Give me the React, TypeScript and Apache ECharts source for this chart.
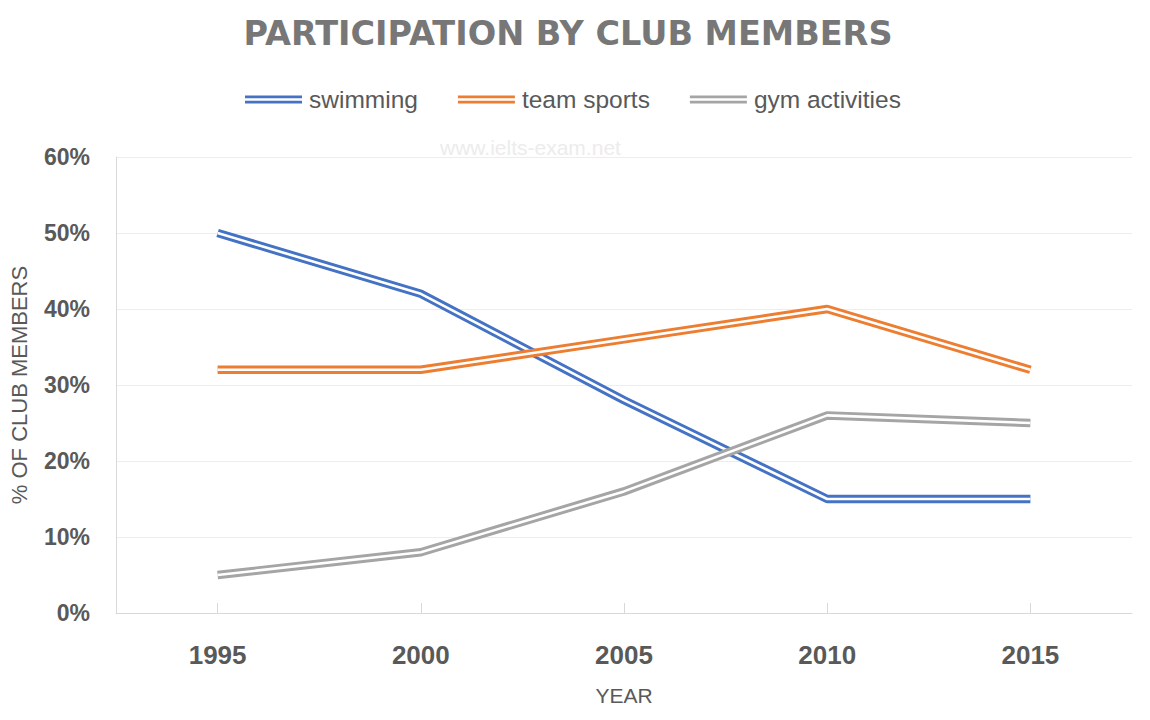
import React, { useEffect, useRef } from "react";
import * as echarts from "echarts";

const years = ["1995", "2000", "2005", "2010", "2015"];
const swimming = [50, 42, 28, 15, 15];
const teamSports = [32, 32, 36, 40, 32];
const gymActivities = [5, 8, 16, 26, 25];
const yTicks = { min: 0, max: 60, interval: 10 };

const seriesDefs = [
  { name: "swimming", data: swimming, color: "#4472C4" },
  { name: "team sports", data: teamSports, color: "#ED7D31" },
  { name: "gym activities", data: gymActivities, color: "#A5A5A5" },
];

const doubleIcon = "path://M0,0L60,0L60,3L0,3Z M0,5.5L60,5.5L60,8.5L0,8.5Z";

export default function App() {
  const ref = useRef<HTMLDivElement>(null);
  useEffect(() => {
    if (!ref.current) return;
    const chart = echarts.init(ref.current, null, { renderer: "svg" });
    const series: any[] = [];
    seriesDefs.forEach((s) => {
      series.push({
        name: s.name,
        type: "line",
        data: s.data,
        symbol: "none",
        color: s.color,
        itemStyle: { color: s.color },
        lineStyle: { color: s.color, width: 8.5 },
      });
      series.push({
        name: s.name + " inner",
        type: "line",
        data: s.data,
        symbol: "none",
        silent: true,
        color: "#ffffff",
        lineStyle: { color: "#ffffff", width: 2.6 },
      });
    });
    chart.setOption({
      animation: false,
      backgroundColor: "#ffffff",
      title: {
        text: "PARTICIPATION BY CLUB MEMBERS",
        left: 563,
        top: 11,
        textAlign: "center",
        textStyle: {
          fontFamily: "DejaVu Sans",
          fontWeight: "bold",
          fontSize: 33.5,
          color: "#777777",
        },
      },
      legend: {
        data: seriesDefs.map((s) => s.name),
        left: 240,
        top: 82,
        icon: doubleIcon,
        itemWidth: 57,
        itemHeight: 9,
        itemGap: 40,
        itemStyle: { borderWidth: 0 },
        textStyle: {
          fontFamily: "Liberation Sans",
          fontSize: 24.5,
          color: "#595959",
          padding: [0, 0, 0, 2],
        },
      },
      graphic: [
        {
          type: "text",
          left: 440,
          top: 137,
          silent: true,
          style: {
            text: "www.ielts-exam.net",
            fontFamily: "Liberation Sans",
            fontSize: 21,
            fill: "#ececec",
          },
        },
      ],
      grid: { left: 114, right: 18, top: 157, bottom: 107, containLabel: false },
      xAxis: {
        type: "category",
        data: years,
        boundaryGap: true,
        name: "YEAR",
        nameLocation: "middle",
        nameGap: 72,
        nameTextStyle: {
          fontFamily: "Liberation Sans",
          fontSize: 21,
          color: "#595959",
        },
        axisLine: { lineStyle: { color: "#d9d9d9", width: 1 } },
        axisTick: {
          show: true,
          inside: true,
          alignWithLabel: true,
          length: 10,
          lineStyle: { color: "#d9d9d9" },
        },
        axisLabel: {
          margin: 29,
          fontFamily: "Liberation Sans",
          fontWeight: "bold",
          fontSize: 26,
          color: "#595959",
        },
      },
      yAxis: {
        type: "value",
        min: yTicks.min,
        max: yTicks.max,
        interval: yTicks.interval,
        name: "% OF CLUB MEMBERS",
        nameLocation: "middle",
        nameGap: 86,
        nameRotate: 90,
        nameTextStyle: {
          fontFamily: "Liberation Sans",
          fontSize: 22,
          color: "#595959",
        },
        axisLine: { show: true, lineStyle: { color: "#d9d9d9", width: 1 } },
        axisTick: { show: false },
        splitLine: { lineStyle: { color: "#ededed", width: 1 } },
        axisLabel: {
          formatter: "{value}%",
          margin: 26,
          fontFamily: "Liberation Sans",
          fontWeight: "bold",
          fontSize: 23,
          color: "#595959",
        },
      },
      series,
    });
    return () => chart.dispose();
  }, []);
  return (
    <div
      ref={ref}
      style={{ position: "fixed", left: 0, top: 0, width: 1150, height: 720 }}
    />
  );
}
